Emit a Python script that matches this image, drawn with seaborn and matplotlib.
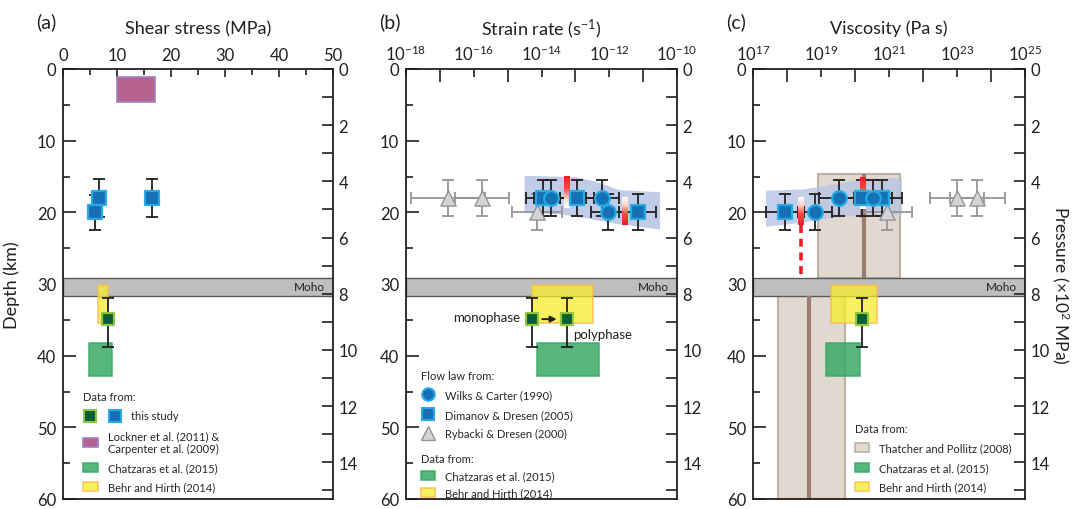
import numpy as np
import matplotlib
matplotlib.use("Agg")
import matplotlib.pyplot as plt
import seaborn as sns
from matplotlib.patches import Patch, Rectangle
from matplotlib.lines import Line2D
from matplotlib.legend_handler import HandlerBase
from matplotlib.colors import LinearSegmentedColormap

sns.set_style("ticks")
plt.rcParams['font.family'] = ['Lato', 'DejaVu Sans']
plt.rcParams['mathtext.default'] = 'regular'

# ---------------- data ----------------
km_per_p = 3.92          # 1 x10^2 MPa of pressure ~ 3.92 km depth
moho = (29.1, 31.7)      # depth range of Moho band (km)

# (a) shear stress (MPa)
a_blue_x = [6.7, 16.4, 5.9]
a_blue_d = [18, 18, 20]
a_blue_derr = [2.6, 2.6, 2.4]
a_green_x = [8.4]
a_green_d = [34.9]
a_green_derr = [[2.9], [3.9]]
a_lockner = [10, 17, 1.1, 4.6]        # x0, x1, depth0, depth1
a_chatz = [4.9, 9.1, 38.2, 42.8]
a_behr = [6.5, 8.4, 30.1, 35.4]

# (b) strain rate, log10 (s^-1)
b_sq_x = [-13.96, -12.96, -11.16]
b_sq_d = [18, 18, 20]
b_sq_xerr = [0.5, 0.5, 0.55]
b_ci_x = [-13.72, -12.2, -12.04]
b_ci_d = [18, 18, 20]
b_ci_xerr = [0.5, 0.5, 0.5]
b_tri_x = [-16.76, -15.76, -14.13]
b_tri_d = [18, 18, 20]
b_tri_xerr = [1.1, 0.8, 0.73]
b_green_x = [-14.28, -13.25]          # monophase, polyphase
b_green_d = [34.9, 34.9]
b_behr = [-14.28, -12.48, 30.1, 35.4]
b_chatz = [-14.13, -12.3, 38.2, 42.8]
b_band_top = ([-14.5, -13.0, -12.4, -11.7, -10.5], [14.9, 15.1, 15.7, 16.9, 17.2])
b_band_bot = ([-10.5, -11.8, -12.6, -13.4, -14.5], [22.4, 21.6, 20.9, 20.3, 20.1])
b_grad = [(-13.25, 14.9, 19.4, True), (-11.54, 17.8, 21.8, False)]   # x, d0, d1, red on top

# (c) viscosity, log10 (Pa s)
c_sq_x = [17.94, 20.2, 20.8]
c_sq_d = [20, 18, 18]
c_sq_xerr = [0.56, 0.55, 0.58]
c_ci_x = [18.82, 19.53, 20.53]
c_ci_d = [20, 18, 18]
c_ci_xerr = [0.5, 0.6, 0.55]
c_tri_x = [20.94, 23.0, 23.6]
c_tri_d = [20, 18, 18]
c_tri_xerr = [0.75, 0.8, 0.8]
c_green_x = [20.2]
c_green_d = [34.9]
c_behr = [19.3, 20.65, 30.1, 35.4]
c_chatz = [19.15, 20.15, 38.2, 42.8]
c_thatcher = [[18.91, 21.32, 14.6, moho[0]], [17.74, 19.7, moho[1], 60]]
c_thatcher_line = [[20.26, 14.6, moho[0]], [18.65, moho[1], 60]]
c_band_top = ([17.38, 18.5, 19.5, 20.3, 21.38], [17.0, 16.8, 16.0, 15.3, 15.2])
c_band_bot = ([21.38, 20.3, 19.3, 18.4, 17.38], [20.3, 20.4, 20.8, 21.5, 22.0])
c_grad = [(20.23, 15.0, 19.5, True), (18.41, 17.8, 21.8, False)]
c_dash = [18.41, 21.8, 28.7]

# ---------------- styles ----------------
ink = '#231f20'
blue_f, blue_e = '#1670b8', '#27aae1'
green_f, green_e = '#0b5d33', '#8dc63f'
tri_f, tri_e = '#d1d3d4', '#939598'
purple_f, purple_e = '#b8608e', '#9a82c4'
chatz_c = '#3aa964'
yellow_f, yellow_e = '#f7ec2a', '#f9b64b'
tan_f, tan_e, tan_line = '#e1d9cf', '#bdb1a4', '#9b7e71'
band_c = '#b7c4e4'
redmap = LinearSegmentedColormap.from_list(
    'wr', [(0, '#ffffff'), (0.3, '#fbd3c6'), (0.6, '#f0503f'), (1, '#ed1c24')])

fig = plt.figure(figsize=(10.78, 5.10), dpi=100)
W, H = 1078, 510
ax_a = fig.add_axes([63 / W, 10 / H, 270 / W, 430 / H])
ax_b = fig.add_axes([406 / W, 10 / H, 271 / W, 430 / H])
ax_c = fig.add_axes([753 / W, 10 / H, 272 / W, 430 / H])


def setup(ax, xlim, major, labels, minor, log, maj_len, min_len):
    if log:
        ax.set_xscale('log')
    ax.set_xlim(xlim)
    ax.set_ylim(60, 0)
    ax.xaxis.tick_top()
    ax.set_xticks(major)
    ax.set_xticklabels(labels)
    ax.set_xticks(minor, minor=True)
    ax.set_xticklabels([], minor=True)
    ax.set_yticks(range(0, 61, 10))
    ax.set_yticks(range(5, 60, 10), minor=True)
    ax.tick_params(which='both', direction='in', top=True, bottom=False, left=True, right=False,
                   color=ink, width=1.2, labelcolor=ink, labelsize=12)
    ax.tick_params(axis='y', which='major', length=9, pad=5)
    ax.tick_params(axis='y', which='minor', length=5)
    ax.tick_params(axis='x', which='major', length=maj_len, pad=4)
    ax.tick_params(axis='x', which='minor', length=min_len)
    for s in ax.spines.values():
        s.set_color(ink)
        s.set_linewidth(1.3)
    ax2 = ax.twinx()
    ax2.set_ylim(60 / km_per_p, 0)
    ax2.set_yticks(range(0, 15, 2))
    ax2.set_yticks(range(1, 16, 2), minor=True)
    ax2.tick_params(which='both', direction='in', length=8, width=1.2, color=ink,
                    labelcolor=ink, labelsize=12, pad=4)
    for s in ax2.spines.values():
        s.set_visible(False)
    # Moho band
    ax.axhspan(moho[0], moho[1], fc='#bcbec0', ec='#58595b', lw=1.0, zorder=1.5)
    ax.text(0.97, sum(moho) / 2, 'Moho', transform=ax.get_yaxis_transform(),
            ha='right', va='center', fontsize=8.5, color=ink, zorder=1.6)
    return ax2


setup(ax_a, (0, 50), range(0, 51, 10), [str(v) for v in range(0, 51, 10)],
      range(5, 50, 10), False, 6, 4)
setup(ax_b, (1e-18, 1e-10), [10.0 ** e for e in range(-18, -9, 2)],
      ['10$^{%d}$' % e for e in range(-18, -9, 2)],
      [10.0 ** e for e in range(-17, -10, 2)], True, 6, 9)
axc2 = setup(ax_c, (1e17, 1e25), [10.0 ** e for e in range(17, 26, 2)],
             ['10$^{%d}$' % e for e in range(17, 26, 2)],
             [10.0 ** e for e in range(18, 25, 2)], True, 6, 9)


def rect(ax, box, fc, ec, alpha=1.0, z=2, log=False, lw=1.2):
    x0, x1, d0, d1 = box
    if log:
        x0, x1 = 10 ** x0, 10 ** x1
    ax.add_patch(Rectangle((x0, d0), x1 - x0, d1 - d0, fc=fc, ec=ec, lw=lw, alpha=alpha, zorder=z))


def logerr(xs, errs):
    xs = np.asarray(xs, float)
    errs = np.asarray(errs, float)
    v = 10 ** xs
    return v, np.vstack([v - 10 ** (xs - errs), 10 ** (xs + errs) - v])


def markers(ax, x, d, kind):
    if kind == 'sq':
        sns.scatterplot(x=x, y=d, marker='s', s=95, color=blue_f, edgecolor=blue_e, linewidth=1.6, ax=ax, zorder=5)
    elif kind == 'ci':
        sns.scatterplot(x=x, y=d, marker='o', s=110, color=blue_f, edgecolor=blue_e, linewidth=1.6, ax=ax, zorder=5)
    elif kind == 'tri':
        sns.scatterplot(x=x, y=d, marker='^', s=120, color=tri_f, edgecolor=tri_e, linewidth=1.0, ax=ax, zorder=5)
    else:
        sns.scatterplot(x=x, y=d, marker='s', s=85, color=green_f, edgecolor=green_e, linewidth=1.6, ax=ax, zorder=5)


def grad_bar(ax, xc, d0, d1, red_top, half=0.095):
    xs = 10.0 ** np.array([xc - half, xc + half])
    ys = np.linspace(d0, d1, 41)
    c = np.linspace(1, 0, 40) if red_top else np.linspace(0, 1, 40)
    ax.pcolormesh(xs, ys, c[:, None], cmap=redmap, vmin=0, vmax=1, shading='flat', zorder=4.5)


eb = dict(fmt='none', ecolor=ink, elinewidth=1.3, capsize=4, capthick=1.3, zorder=4)
eb_gray = dict(fmt='none', ecolor=tri_e, elinewidth=1.3, capsize=4, capthick=1.3, zorder=4)

# ---------------- (a) ----------------
rect(ax_a, a_lockner, purple_f, purple_e, z=2)
rect(ax_a, a_chatz, chatz_c, chatz_c, alpha=0.85, z=2)
rect(ax_a, a_behr, yellow_f, yellow_e, alpha=0.75, z=2)
ax_a.errorbar(a_blue_x, a_blue_d, yerr=a_blue_derr, **eb)
ax_a.errorbar(a_green_x, a_green_d, yerr=a_green_derr, **eb)
markers(ax_a, a_blue_x, a_blue_d, 'sq')
markers(ax_a, a_green_x, a_green_d, 'gr')

# ---------------- (b) ----------------
bx = 10.0 ** np.array(b_band_top[0] + b_band_bot[0])
by = np.array(b_band_top[1] + b_band_bot[1])
ax_b.fill(bx, by, color=band_c, alpha=0.85, lw=0, zorder=2)
rect(ax_b, b_behr, yellow_f, yellow_e, alpha=0.75, z=2, log=True)
rect(ax_b, b_chatz, chatz_c, chatz_c, alpha=0.85, z=2, log=True)
for xs, ds, errs, kind in [(b_tri_x, b_tri_d, b_tri_xerr, 'tri'),
                           (b_sq_x, b_sq_d, b_sq_xerr, 'sq'),
                           (b_ci_x, b_ci_d, b_ci_xerr, 'ci')]:
    v, xe = logerr(xs, errs)
    ax_b.errorbar(v, ds, xerr=xe, yerr=2.5, **(eb_gray if kind == 'tri' else eb))
    markers(ax_b, v, ds, kind)
for g in b_grad:
    grad_bar(ax_b, *g)
gv = 10.0 ** np.array(b_green_x)
ax_b.errorbar(gv, b_green_d, yerr=a_green_derr, **eb)
markers(ax_b, gv, b_green_d, 'gr')
ax_b.annotate('', xy=(10 ** (b_green_x[1] - 0.22), b_green_d[1]), xytext=(10 ** (b_green_x[0] + 0.22), b_green_d[0]),
              arrowprops=dict(arrowstyle='-|>', color=ink, lw=1.4, mutation_scale=9), zorder=6)
ax_b.text(10 ** (b_green_x[0] - 0.35), b_green_d[0] - 0.3, 'monophase', ha='right', va='center', fontsize=9.5, color=ink)
ax_b.text(10 ** (b_green_x[1] + 0.18), b_green_d[1] + 2.1, 'polyphase', ha='left', va='center', fontsize=9.5, color=ink)

# ---------------- (c) ----------------
for box in c_thatcher:
    rect(ax_c, box, tan_f, tan_e, z=1.2, log=True, lw=1.5)
cx = 10.0 ** np.array(c_band_top[0] + c_band_bot[0])
cy = np.array(c_band_top[1] + c_band_bot[1])
ax_c.fill(cx, cy, color=band_c, alpha=0.8, lw=0, zorder=2)
for xl, d0, d1 in c_thatcher_line:
    ax_c.plot([10 ** xl, 10 ** xl], [d0, d1], color=tan_line, lw=3, zorder=2.5, solid_capstyle='butt')
rect(ax_c, c_behr, yellow_f, yellow_e, alpha=0.75, z=2, log=True)
rect(ax_c, c_chatz, chatz_c, chatz_c, alpha=0.85, z=2, log=True)
for xs, ds, errs, kind in [(c_tri_x, c_tri_d, c_tri_xerr, 'tri'),
                           (c_sq_x, c_sq_d, c_sq_xerr, 'sq'),
                           (c_ci_x, c_ci_d, c_ci_xerr, 'ci')]:
    v, xe = logerr(xs, errs)
    ax_c.errorbar(v, ds, xerr=xe, yerr=2.5, **(eb_gray if kind == 'tri' else eb))
    markers(ax_c, v, ds, kind)
for g in c_grad:
    grad_bar(ax_c, *g)
ax_c.plot([10 ** c_dash[0]] * 2, c_dash[1:], color='#ed1c24', lw=2.6, ls=(0, (2.2, 1.6)), zorder=4.5)
gv = 10.0 ** np.array(c_green_x)
ax_c.errorbar(gv, c_green_d, yerr=a_green_derr, **eb)
markers(ax_c, gv, c_green_d, 'gr')

# ---------------- legends ----------------
class HandlerPair(HandlerBase):
    def create_artists(self, legend, orig_handle, xdescent, ydescent, width, height, fontsize, trans):
        out = []
        for k, h in enumerate(orig_handle):
            m = Line2D([width / 2 - xdescent + k * 1.7 * width], [height / 2 - ydescent])
            m.update_from(h)
            m.set_transform(trans)
            out.append(m)
        return out


def sq_handle(fc, ec):
    return Line2D([], [], marker='s', ls='', mfc=fc, mec=ec, mew=1.5, ms=8.5)


def patch(fc, ec, alpha=1.0):
    return Patch(fc=fc, ec=ec, alpha=alpha, lw=1.2)


leg_kw = dict(frameon=False, fontsize=8, title_fontsize=8, alignment='left', handlelength=1.3,
              handleheight=0.9, handletextpad=0.9, borderaxespad=0.2)
pair = (sq_handle(green_f, green_e), sq_handle(blue_f, blue_e))
ax_a.legend([pair, patch(purple_f, purple_e), patch(chatz_c, chatz_c, 0.85), patch(yellow_f, yellow_e, 0.75)],
            ['        this study', 'Lockner et al. (2011) &\nCarpenter et al. (2009)',
             'Chatzaras et al. (2015)', 'Behr and Hirth (2014)'],
            title='Data from:', loc='lower left', bbox_to_anchor=(0.05, 0.0), labelspacing=0.75,
            handler_map={pair: HandlerPair()}, **leg_kw)

flow = ax_b.legend([Line2D([], [], marker='o', ls='', mfc=blue_f, mec=blue_e, mew=1.5, ms=9),
                    sq_handle(blue_f, blue_e),
                    Line2D([], [], marker='^', ls='', mfc=tri_f, mec=tri_e, mew=1.0, ms=10)],
                   ['Wilks & Carter (1990)', 'Dimanov & Dresen (2005)', 'Rybacki & Dresen (2000)'],
                   title='Flow law from:', loc='upper left', bbox_to_anchor=(0.03, 0.315),
                   labelspacing=0.75, **leg_kw)
ax_b.add_artist(flow)
ax_b.legend([patch(chatz_c, chatz_c, 0.85), patch(yellow_f, yellow_e, 0.75)],
            ['Chatzaras et al. (2015)', 'Behr and Hirth (2014)'],
            title='Data from:', loc='lower left', bbox_to_anchor=(0.03, -0.014),
            labelspacing=0.55, **leg_kw)

ax_c.legend([patch(tan_f, tan_e), patch(chatz_c, chatz_c, 0.85), patch(yellow_f, yellow_e, 0.75)],
            ['Thatcher and Pollitz (2008)', 'Chatzaras et al. (2015)', 'Behr and Hirth (2014)'],
            title='Data from:', loc='lower left', bbox_to_anchor=(0.35, 0.0), labelspacing=0.75, **leg_kw)

# ---------------- labels ----------------
for ax, tag, title in [(ax_a, '(a)', 'Shear stress (MPa)'),
                       (ax_b, '(b)', 'Strain rate (s$^{-1}$)'),
                       (ax_c, '(c)', 'Viscosity (Pa s)')]:
    ax.text(0.5, 1.095, title, transform=ax.transAxes, ha='center', va='center', fontsize=13, color=ink)
    ax.text(-0.10, 1.11, tag, transform=ax.transAxes, ha='left', va='center', fontsize=14, color=ink)

ax_a.set_ylabel('Depth (km)', fontsize=13, color=ink)
ax_a.yaxis.set_label_coords(-0.16, 0.5)
axc2.set_ylabel('Pressure (×10$^{2}$ MPa)', fontsize=12.5, color=ink, rotation=-90, va='center')
axc2.yaxis.set_label_coords(1.13, 0.5)

fig.savefig('out.png', dpi=100)
